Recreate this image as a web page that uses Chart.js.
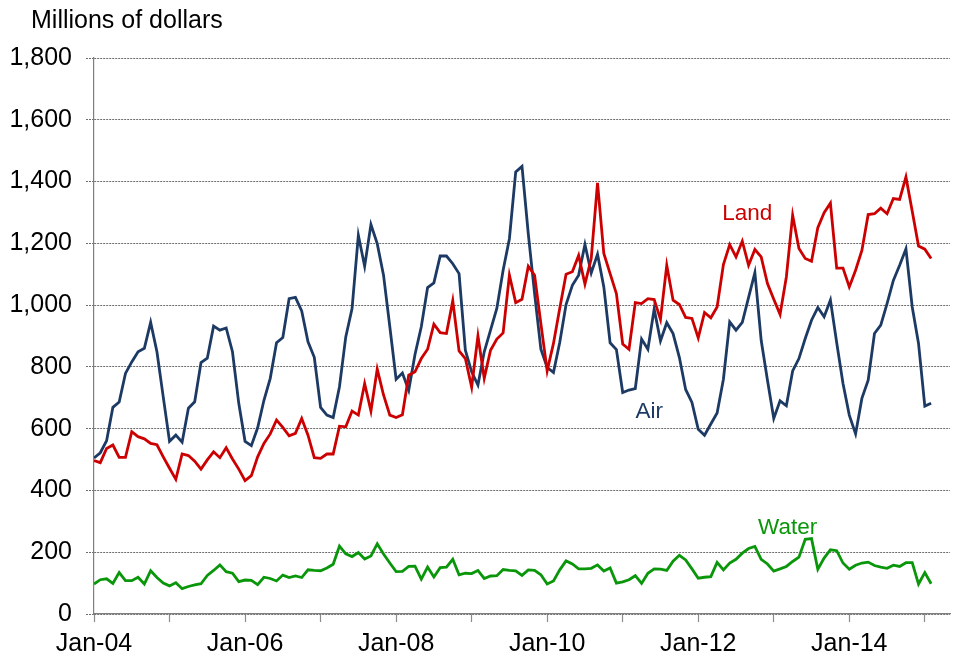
<!DOCTYPE html>
<html>
<head>
<meta charset="utf-8">
<script src="https://cdn.jsdelivr.net/npm/chart.js@4.4.1/dist/chart.umd.min.js"></script>
<style>
  html, body { margin: 0; padding: 0; background: #fff; }
  #wrap { width: 958px; height: 660px; }
</style>
</head>
<body>
<div id="wrap"><canvas id="chart" width="958" height="660"></canvas></div>
<script>
// monthly values, Jan-04 .. Feb-15 (millions of dollars)
const air = [
  505, 522, 561, 669, 686, 779, 816, 849, 860, 944, 849, 703,
  559, 579, 556, 666, 687, 814, 828, 932, 919, 926, 849, 682,
  559, 545, 603, 692, 763, 878, 895, 1021, 1025, 981, 881, 831,
  669, 644, 636, 736, 897, 989, 1226, 1126, 1261, 1199, 1097, 930,
  760, 780, 724, 840, 930, 1057, 1072, 1159, 1159, 1134, 1102, 854,
  784, 741, 849, 919, 989, 1113, 1215, 1431, 1449, 1231, 1037, 857,
  798, 782, 880, 1002, 1064, 1097, 1196, 1104, 1165, 1059, 878, 856,
  717, 725, 730, 890, 857, 987, 884, 943, 908, 831, 727, 685,
  598, 579, 615, 651, 760, 946, 919, 944, 1025, 1105, 886, 757,
  633, 690, 674, 787, 827, 892, 951, 992, 962, 1016, 878, 746,
  644, 583, 698, 757, 908, 935, 1005, 1080, 1129, 1182, 994, 876,
  673, 682
];
const land = [
  497, 490, 536, 547, 507, 507, 590, 574, 567, 552, 548, 509,
  472, 436, 518, 513, 495, 469, 499, 525, 506, 538, 502, 469,
  432, 448, 509, 552, 583, 628, 604, 577, 585, 633, 579, 506,
  504, 518, 518, 608, 606, 657, 644, 746, 657, 793, 709, 644,
  636, 645, 773, 784, 827, 857, 938, 911, 908, 1014, 852, 827,
  734, 900, 763, 854, 890, 910, 1097, 1008, 1019, 1126, 1097, 940,
  787, 876, 990, 1100, 1108, 1161, 1068, 1151, 1396, 1167, 1102, 1037,
  874, 857, 1008, 1005, 1021, 1018, 954, 1129, 1016, 1002, 960, 957,
  894, 976, 959, 994, 1131, 1196, 1156, 1207, 1129, 1180, 1156, 1070,
  1019, 970, 1091, 1291, 1183, 1151, 1142, 1251, 1299, 1330, 1120, 1120,
  1059, 1113, 1177, 1293, 1296, 1314, 1296, 1345, 1342, 1415, 1304, 1191,
  1181, 1151
];
const water = [
  97, 111, 114, 99, 134, 108, 108, 119, 97, 140, 118, 100,
  91, 101, 82, 89, 94, 98, 125, 141, 159, 137, 132, 105,
  110, 109, 95, 119, 115, 107, 126, 118, 123, 118, 143, 141,
  140, 149, 161, 220, 195, 186, 199, 178, 188, 227, 194, 165,
  137, 138, 154, 155, 113, 152, 120, 150, 152, 177, 127, 132,
  131, 141, 115, 123, 124, 144, 141, 140, 125, 143, 141, 127,
  97, 107, 143, 172, 162, 146, 146, 148, 159, 139, 149, 100,
  104, 111, 124, 99, 132, 146, 145, 141, 171, 190, 175, 146,
  116, 119, 121, 167, 143, 165, 177, 197, 212, 219, 177, 162,
  139, 146, 154, 170, 184, 242, 244, 145, 181, 208, 205, 165,
  145, 158, 165, 168, 157, 152, 148, 158, 154, 166, 166, 97,
  134, 98
];

// one tick per January; labels on every other year
const xTickLabels = ['Jan-04', '', 'Jan-06', '', 'Jan-08', '', 'Jan-10', '', 'Jan-12', '', 'Jan-14', ''];
const yTickLabels = ['0', '200', '400', '600', '800', '1,000', '1,200', '1,400', '1,600', '1,800'];
const unitLabel = 'Millions of dollars';

const monthIndex = air.map((v, i) => i);

const colors = { air: '#1c3a63', land: '#cc0000', water: '#0a960a' };
const FONT = '"Liberation Sans", Arial, sans-serif';

// series names written next to the lines
const seriesTags = [
  { text: 'Land', color: colors.land, x: 103.8, y: 1297 },
  { text: 'Air', color: colors.air, x: 88.2, y: 655 },
  { text: 'Water', color: colors.water, x: 110.2, y: 280 }
];

const textPlugin = {
  id: 'textLabels',
  afterDatasetsDraw(chart) {
    const { ctx, scales } = chart;
    ctx.save();
    ctx.fillStyle = '#000';
    ctx.font = '25px ' + FONT;
    ctx.textAlign = 'left';
    ctx.textBaseline = 'alphabetic';
    ctx.fillText(unitLabel, 31, 28);

    ctx.font = '22.5px ' + FONT;
    ctx.textAlign = 'center';
    ctx.textBaseline = 'middle';
    seriesTags.forEach(t => {
      ctx.fillStyle = t.color;
      ctx.fillText(t.text, scales.x.getPixelForValue(t.x), scales.y.getPixelForValue(t.y));
    });
    ctx.restore();
  }
};

function line(label, data, color) {
  return {
    label: label,
    data: data,
    borderColor: color,
    backgroundColor: color,
    borderWidth: 2.8,
    pointRadius: 0,
    tension: 0,
    fill: false
  };
}

new Chart(document.getElementById('chart'), {
  type: 'line',
  data: {
    labels: monthIndex,
    datasets: [
      line('Water', water, colors.water),
      line('Land', land, colors.land),
      line('Air', air, colors.air)
    ]
  },
  options: {
    responsive: false,
    animation: false,
    layout: { padding: { top: 58, right: 8, bottom: 0, left: 0 } },
    plugins: {
      legend: { display: false },
      tooltip: { enabled: false },
      title: { display: false }
    },
    scales: {
      x: {
        type: 'linear',
        min: 0,
        max: 136,
        afterBuildTicks: scale => {
          scale.ticks = xTickLabels.map((_, i) => ({ value: i * 12 }));
        },
        afterFit: scale => { scale.height = 46; },
        ticks: {
          autoSkip: false,
          maxRotation: 0,
          padding: 7,
          color: '#000',
          font: { family: FONT, size: 25 },
          callback: v => xTickLabels[v / 12] || ''
        },
        grid: {
          drawOnChartArea: false,
          drawTicks: true,
          tickLength: 8,
          tickColor: '#8c8c8c',
          tickWidth: 1.2
        },
        border: { color: '#7f7f7f', width: 1.2 }
      },
      y: {
        min: 0,
        max: 1800,
        afterFit: scale => { scale.width = 94; },
        ticks: {
          stepSize: 200,
          padding: 14,
          color: '#000',
          font: { family: FONT, size: 25 },
          callback: (v) => yTickLabels[Math.round(v / 200)]
        },
        grid: {
          color: '#6e6e6e',
          lineWidth: 1,
          tickLength: 8,
          tickColor: '#6e6e6e',
          tickBorderDash: [2, 1]
        },
        border: { color: '#7f7f7f', width: 1.2, dash: [2, 1] }
      }
    }
  },
  plugins: [textPlugin]
});
</script>
</body>
</html>
